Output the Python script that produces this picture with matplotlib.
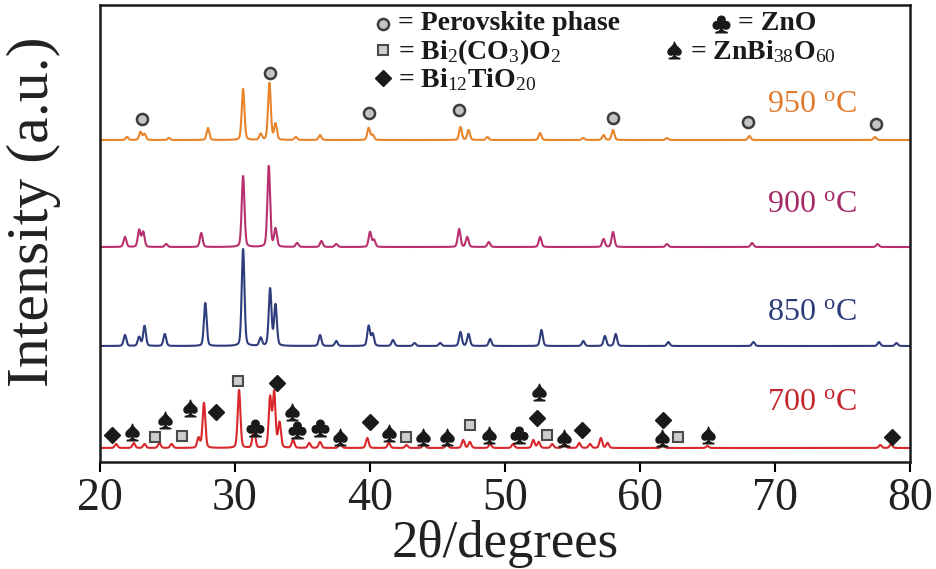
import numpy as np
import matplotlib
matplotlib.use("Agg")
import matplotlib.pyplot as plt

# =========================
# DATA
# =========================

temps = ["950", "900", "850", "700"]
offsets = [322, 215, 116, 14]

pos_950 = [22.0, 23.0, 23.3, 25.1, 28.0, 30.6, 31.9, 32.55, 33.0, 34.5, 36.3, 39.9, 40.2,
           46.7, 47.3, 48.7, 52.6, 55.8, 57.3, 58.0, 62.0, 68.1, 77.4]
int_950 = [3, 8, 6, 2, 12, 51, 6, 57, 16, 3, 5, 12, 5,
           13, 10, 3, 7, 2, 5, 10, 2, 4, 3]

pos_900 = [21.85, 22.9, 23.2, 24.9, 27.5, 30.6, 32.5, 33.0, 34.6, 36.4, 37.5, 40.0, 40.3,
           46.6, 47.2, 48.8, 52.6, 57.3, 58.0, 62.0, 68.3, 77.6]
int_900 = [10, 17, 15, 3, 14, 71, 81, 18, 4, 6, 3, 15, 7,
           18, 10, 5, 10, 8, 15, 3, 4, 3]

pos_850 = [21.85, 22.9, 23.3, 24.8, 27.8, 30.6, 31.9, 32.6, 33.0, 36.3, 37.5, 39.9, 40.2,
           41.7, 43.3, 45.2, 46.7, 47.3, 48.9, 52.7, 55.8, 57.4, 58.2, 62.1, 68.4, 77.7, 79.0]
int_850 = [11, 9, 20, 12, 43, 97, 8, 57, 41, 11, 5, 20, 12,
           6, 3, 3, 14, 12, 7, 16, 5, 10, 12, 4, 4, 4, 3]

pos_700 = [21.2, 22.5, 23.3, 24.4, 25.3, 27.3, 27.7, 30.3, 31.4, 32.6, 32.9, 33.3, 34.3,
           35.5, 36.3, 37.8, 39.8, 41.4, 42.7, 44.0, 45.7, 46.9, 47.4, 48.9, 50.6, 52.1,
           52.5, 53.5, 54.4, 55.5, 56.3, 57.1, 57.6, 61.7, 65.0, 77.8, 78.6]
int_700 = [4, 5, 4, 5, 4, 10, 45, 58, 20, 50, 55, 25, 8,
           5, 6, 5, 10, 5, 3, 4, 4, 8, 6, 4, 4, 8,
           6, 4, 5, 5, 4, 10, 5, 4, 2, 3, 4]

series_pos = [pos_950, pos_900, pos_850, pos_700]
series_int = [int_950, int_900, int_850, int_700]

# phase markers (2theta, intensity)
perov_pos = [23.1, 32.6, 39.9, 46.6, 58.0, 68.0, 77.5]
perov_int = [343, 389, 349, 352, 344, 340, 338]

bi2co3_pos = [24.1, 26.1, 30.2, 42.7, 47.4, 53.1, 62.8]
bi2co3_int = [25, 26, 81, 25, 37, 27, 25]

bi12_pos = [20.9, 28.6, 33.1, 40.0, 52.4, 55.7, 61.7, 78.7]
bi12_int = [27, 50, 79, 40, 44, 32, 42, 25]

znbi_pos = [22.4, 24.8, 26.7, 34.2, 37.8, 41.4, 43.9, 45.7, 48.8, 52.5, 54.4, 61.6, 65.0]
znbi_int = [30, 42, 54, 50, 25, 29, 25, 25, 27, 70, 24, 24, 27]

zno_pos = [31.5, 34.6, 36.3, 51.0]
zno_int = [34, 32, 34, 27]

colors = ["#e8842a", "#b8306e", "#2e3d7c", "#d8282c"]
label_colors = ["#e07a2c", "#a42a68", "#2c3a78", "#c4262c"]
label_y = [357, 258, 150, 59]

# =========================
# PLOT
# =========================

plt.rcParams["font.family"] = ["Liberation Serif", "DejaVu Serif"]
plt.rcParams["mathtext.fontset"] = "custom"
plt.rcParams["mathtext.rm"] = "Liberation Serif"
plt.rcParams["mathtext.it"] = "Liberation Serif:italic"
plt.rcParams["mathtext.bf"] = "Liberation Serif:bold"

two_theta = np.linspace(20, 80, 4001)


def pattern(pos, heights, base, fwhm=0.24):
    y = np.full_like(two_theta, float(base))
    for p, h in zip(pos, heights):
        d = (two_theta - p) / fwhm
        y += h * (0.75 * np.exp(-4 * np.log(2) * d ** 2) + 0.25 / (1 + 4 * d ** 2))
    return y


fig = plt.figure(figsize=(9.37, 5.69), dpi=100)
ax = fig.add_axes([100 / 937, 107 / 569, 810 / 937, 457 / 569])

for pos, ints, off, col in zip(series_pos, series_int, offsets, colors):
    ax.plot(two_theta, pattern(pos, ints, off), color=col, lw=1.5)

for t, ly, lc in zip(temps, label_y, label_colors):
    ax.text(72.7, ly, t + r" $^{\rm o}$C", color=lc, fontsize=23, ha="center", va="center")

mk = dict(linestyle="none", zorder=5)
ax.plot(perov_pos, perov_int, marker="o", ms=8, mfc="#c4c4c4", mec="#3c3c3c", mew=1.8, **mk)
ax.plot(bi2co3_pos, bi2co3_int, marker="s", ms=7, mfc="#cccccc", mec="#4a4a4a", mew=1.5, **mk)
ax.plot(bi12_pos, bi12_int, marker="D", ms=8, color="#1a1a1a", **mk)
ax.plot(znbi_pos, znbi_int, marker="$\u2660$", ms=12, color="#1a1a1a", **mk)
ax.plot(zno_pos, zno_int, marker="$\u2663$", ms=12, color="#1a1a1a", **mk)

# legend block drawn by hand like the original
leg = dict(transform=ax.transAxes, fontsize=20, fontweight="bold", va="center", ha="left",
           color="#1a1a1a")


def fx(px):
    return (px - 100) / 810


def fy(py):
    return (462 - py) / 457


sym = dict(transform=ax.transAxes, clip_on=False, linestyle="none")
ax.plot([fx(383)], [fy(24)], marker="o", ms=8, mfc="#c4c4c4", mec="#3c3c3c", mew=1.8, **sym)
ax.text(fx(398), fy(24), "= Perovskite phase", **leg)
ax.plot([fx(721)], [fy(24)], marker="$\u2663$", ms=12, color="#1a1a1a", **sym)
ax.text(fx(738), fy(24), "= ZnO", **leg)
ax.plot([fx(383)], [fy(50)], marker="s", ms=7, mfc="#cccccc", mec="#4a4a4a", mew=1.5, **sym)
ax.text(fx(398), fy(52), r"= Bi$_2$(CO$_3$)O$_2$", **leg)
ax.plot([fx(674)], [fy(50)], marker="$\u2660$", ms=12, color="#1a1a1a", **sym)
ax.text(fx(690), fy(52), r"= ZnBi$_{38}$O$_{60}$", **leg)
ax.plot([fx(383)], [fy(78)], marker="D", ms=8, color="#1a1a1a", **sym)
ax.text(fx(398), fy(80), r"= Bi$_{12}$TiO$_{20}$", **leg)

ax.set_xlim(20, 80)
ax.set_ylim(0, 457)
ax.set_yticks([])
ax.set_xticks(np.arange(20, 81, 10))
ax.tick_params(axis="x", direction="out", length=7, width=1.5, labelsize=33,
               labelcolor="#222222", pad=4)
for s in ax.spines.values():
    s.set_linewidth(1.8)
    s.set_color("#1a1a1a")

ax.set_xlabel("2\u03b8/degrees", fontsize=38, color="#222222", labelpad=0)
fig.text(34 / 937, 1 - 212 / 569, "Intensity (a.u.)", rotation=90, fontsize=43,
         color="#222222", ha="center", va="center")

fig.savefig("out.png", dpi=100)
